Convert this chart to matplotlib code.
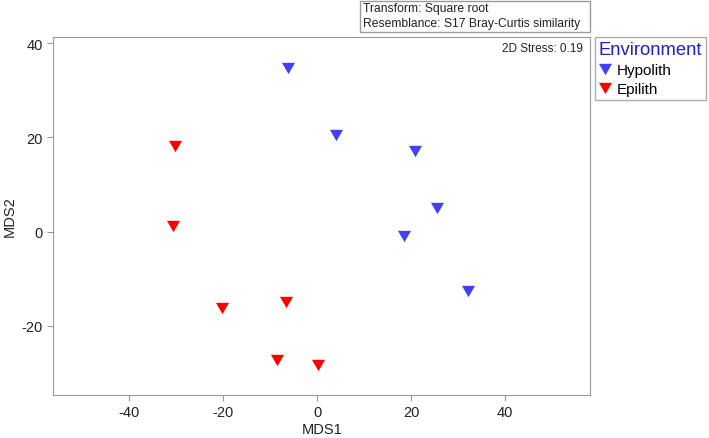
import matplotlib.pyplot as plt
from matplotlib.patches import Rectangle
from matplotlib.lines import Line2D

plt.rcParams['font.family'] = ['Liberation Sans', 'DejaVu Sans']
plt.rcParams['axes.unicode_minus'] = False

# MDS coordinates
hypo_x = [-6.2, 4.1, 20.8, 25.4, 18.5, 32.1]
hypo_y = [34.7, 20.5, 17.1, 5.0, -1.0, -12.7]
epi_x = [-30.1, -30.7, -20.1, -6.6, -8.6, 0.1]
epi_y = [18.2, 1.1, -16.1, -15.0, -27.3, -28.4]

groups = ["Hypolith", "Epilith"]
colors = ["#4040f5", "#ff0000"]
xticks = [-40, -20, 0, 20, 40]
yticks = [-20, 0, 20, 40]

W, H = 709, 439
tri = [(0, -0.87), (-1, 0.87), (1, 0.87)]
gray = "#9a9a9a"
ink = "#222222"


def main():
    fig = plt.figure(figsize=(W / 100, H / 100), dpi=100)
    ax = fig.add_axes([53.5 / W, 1 - 395.7 / H, (590 - 53.5) / W, (395.7 - 37.5) / H])

    ax.plot(hypo_x, hypo_y, linestyle="none", marker=tri, ms=9.4, color=colors[0], mec="none")
    ax.plot(epi_x, epi_y, linestyle="none", marker=tri, ms=9.4, color=colors[1], mec="none")

    ax.set_xlim(-56, 58)
    ax.set_ylim(-34.6, 41.4)
    ax.set_xticks(xticks)
    ax.set_yticks(yticks)
    for s in ax.spines.values():
        s.set_color(gray)
    ax.tick_params(colors=gray, labelcolor=ink, labelsize=10.5, length=4, direction="out")

    # axis titles placed by hand so they sit where the reference has them
    fig.text(321.7 / W, 1 - 430 / H, "MDS1", fontsize=10.5, color=ink, ha="center", va="center")
    fig.text(10 / W, 1 - 216.6 / H, "MDS2", fontsize=10.5, color=ink, ha="center", va="center",
             rotation=90)

    ax.text(0.987, 0.985, "2D Stress: 0.19", transform=ax.transAxes, ha="right", va="top",
            fontsize=8.5, color=ink)

    # resemblance box above the plot
    fig.patches.append(Rectangle((360 / W, 1 - 33 / H), 230 / W, 31 / H, transform=fig.transFigure,
                                 fill=False, edgecolor=gray, lw=1))
    fig.text(363 / W, 1 - 9 / H, "Transform: Square root", fontsize=8.7, va="center", color=ink)
    fig.text(363 / W, 1 - 24.5 / H, "Resemblance: S17 Bray-Curtis similarity", fontsize=8.7,
             va="center", color=ink)

    handles = [Line2D([], [], linestyle="none", marker=tri, ms=9.4, color=c, mec="none") for c in colors]
    leg = fig.legend(handles, groups, title="Environment", loc="upper left",
                     bbox_to_anchor=(595 / W, 1 - 37.7 / H), fontsize=11, title_fontsize=13.3,
                     frameon=True, fancybox=False, edgecolor=gray, borderpad=0.25,
                     handlelength=0.8, handletextpad=0.4, labelspacing=0.35, borderaxespad=0)
    leg.get_title().set_color("#2020c8")
    leg._legend_box.align = "left"
    leg.get_frame().set_linewidth(1)

    fig.savefig("out.png", dpi=100)


if __name__ == "__main__":
    main()
